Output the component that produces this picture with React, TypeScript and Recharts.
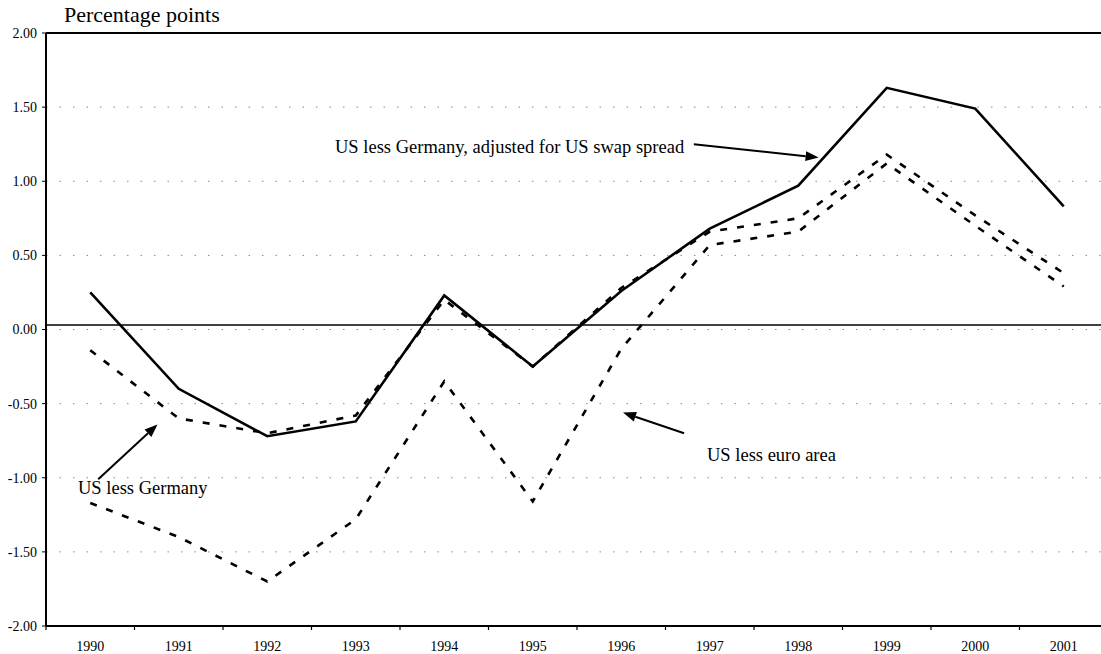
import {
  CartesianGrid,
  Line,
  LineChart,
  ReferenceLine,
  XAxis,
  YAxis
} from "recharts";

const years = [1990, 1991, 1992, 1993, 1994, 1995, 1996, 1997, 1998, 1999, 2000, 2001];
const adjustedForSwap = [0.25, -0.4, -0.72, -0.62, 0.23, -0.25, 0.26, 0.68, 0.97, 1.63, 1.49, 0.83];
const lessGermany = [-0.14, -0.6, -0.7, -0.58, 0.2, -0.25, 0.28, 0.66, 0.75, 1.18, 0.77, 0.38];
const lessEuroArea = [-1.17, -1.4, -1.7, -1.28, -0.35, -1.16, -0.13, 0.57, 0.66, 1.12, 0.7, 0.29];
const yTicks = [2, 1.5, 1, 0.5, 0, -0.5, -1, -1.5, -2];

// annotation arrows, tail -> head, in data units
const arrows = [
  { from: { x: 1996.82, y: 1.25 }, to: { x: 1998.23, y: 1.16 } },
  { from: { x: 1996.71, y: -0.7 }, to: { x: 1996.02, y: -0.56 } },
  { from: { x: 1990.09, y: -1.01 }, to: { x: 1990.76, y: -0.64 } }
];

const CHART_W = 1110;
const CHART_H = 654;
const MARGIN = { top: 33, right: 2, left: 6, bottom: 0 };
const Y_AXIS_W = 40;
const X_AXIS_H = 28;
const HALF_BAND = (CHART_W - MARGIN.left - MARGIN.right - Y_AXIS_W) / 12 / 2;
const FONT = "'Liberation Serif', 'Times New Roman', serif";

const chartData = years.map((year, i) => ({
  year,
  adjusted: adjustedForSwap[i],
  germany: lessGermany[i],
  euro: lessEuroArea[i]
}));

function YearTick({ x, y, payload }: any) {
  return (
    <g>
      <line
        x1={x - HALF_BAND}
        x2={x - HALF_BAND}
        y1={y}
        y2={y + 4}
        stroke="#000"
        strokeWidth={1.2}
      />
      <text x={x} y={y + 25} textAnchor="middle" fontSize={14} fontFamily={FONT} fill="#000">
        {payload.value}
      </text>
    </g>
  );
}

function Arrow(props: any) {
  const { x1, y1, x2, y2 } = props;
  const ang = Math.atan2(y2 - y1, x2 - x1);
  const len = 13;
  const half = 5;
  const cos = Math.cos(ang);
  const sin = Math.sin(ang);
  const bx = x2 - len * cos;
  const by = y2 - len * sin;
  const pts = `${x2},${y2} ${bx + half * sin},${by - half * cos} ${bx - half * sin},${by + half * cos}`;
  return (
    <g>
      <line x1={x1} y1={y1} x2={bx} y2={by} stroke="#000" strokeWidth={2} />
      <polygon points={pts} fill="#000" />
    </g>
  );
}

export default function App() {
  return (
    <div
      style={{
        position: "absolute",
        left: 0,
        top: 0,
        width: 1101,
        height: 654,
        overflow: "hidden",
        background: "#fff"
      }}
    >
      <LineChart width={CHART_W} height={CHART_H} data={chartData} margin={MARGIN}>
        <CartesianGrid vertical={false} stroke="#888" strokeDasharray="1.5 12" />
        <XAxis
          dataKey="year"
          type="number"
          domain={[1989.5, 2001.5]}
          ticks={years}
          height={X_AXIS_H}
          tickSize={0}
          tickMargin={0}
          tickLine={false}
          axisLine={{ stroke: "#000", strokeWidth: 2 }}
          tick={<YearTick />}
          interval={0}
        />
        <YAxis
          width={Y_AXIS_W}
          domain={[-2, 2]}
          ticks={yTicks}
          interval={0}
          tickFormatter={(v: number) => v.toFixed(2)}
          tickSize={4}
          tickMargin={5}
          tickLine={{ stroke: "#000" }}
          axisLine={{ stroke: "#000", strokeWidth: 2 }}
          tick={{ fontSize: 14, fill: "#000", fontFamily: FONT }}
        />
        <ReferenceLine y={2} stroke="#000" strokeWidth={2} />
        <ReferenceLine y={0.03} stroke="#000" strokeWidth={1.5} />
        <Line
          dataKey="adjusted"
          type="linear"
          stroke="#000"
          strokeWidth={2.6}
          dot={false}
          isAnimationActive={false}
        />
        <Line
          dataKey="germany"
          type="linear"
          stroke="#000"
          strokeWidth={2.6}
          strokeDasharray="7 10"
          dot={false}
          isAnimationActive={false}
        />
        <Line
          dataKey="euro"
          type="linear"
          stroke="#000"
          strokeWidth={2.6}
          strokeDasharray="7 10"
          dot={false}
          isAnimationActive={false}
        />
        {arrows.map((a, i) => (
          <ReferenceLine
            key={i}
            segment={[a.from, a.to]}
            ifOverflow="visible"
            shape={Arrow}
          />
        ))}
      </LineChart>
      <svg
        width={1101}
        height={654}
        style={{ position: "absolute", left: 0, top: 0, pointerEvents: "none" }}
      >
        <g fontFamily={FONT} fill="#000">
          <text x={64} y={22} fontSize={22}>Percentage points</text>
          <text x={335} y={153} fontSize={18.5}>US less Germany, adjusted for US swap spread</text>
          <text x={707} y={461} fontSize={18.5}>US less euro area</text>
          <text x={78} y={494} fontSize={18.5}>US less Germany</text>
        </g>
      </svg>
    </div>
  );
}
